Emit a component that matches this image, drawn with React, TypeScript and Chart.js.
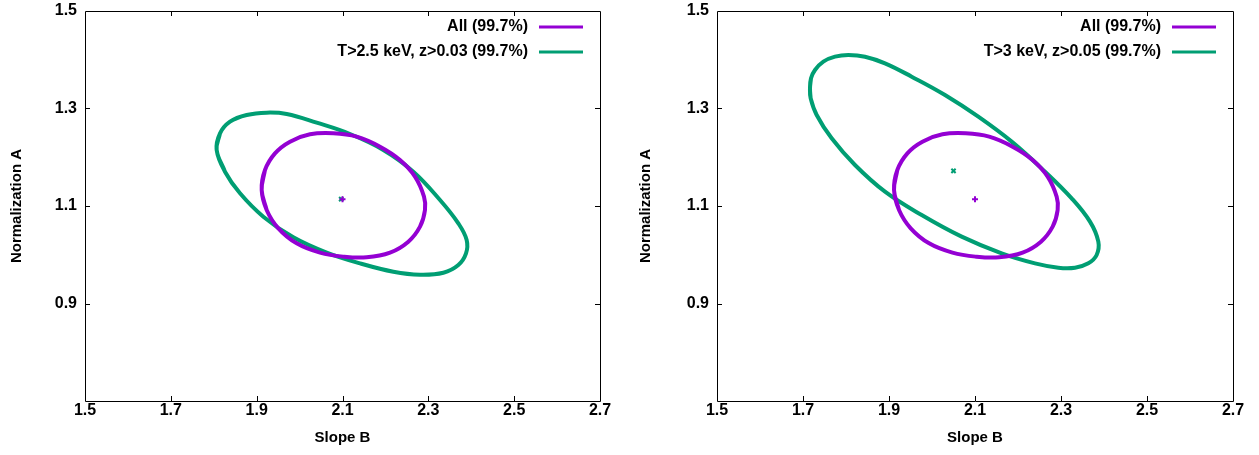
import React, { useEffect, useRef } from 'react';
import { Chart, registerables } from 'chart.js';

Chart.register(...registerables);

// Tick values
const xTickValues = [1.5, 1.7, 1.9, 2.1, 2.3, 2.5, 2.7];
const yTickValues = [0.7, 0.9, 1.1, 1.3, 1.5];
const yTickLabelsShown = [0.9, 1.1, 1.3, 1.5];

// 99.7% contour, full sample (same in both panels)
const allB = [1.9117, 1.9194, 1.9427, 1.9777, 2.0243, 2.0786, 2.1330, 2.1874, 2.2340, 2.2689, 2.2899, 2.2922, 2.2806, 2.2534, 2.2107, 2.1563, 2.1019, 2.0476, 1.9932, 1.9505, 1.9233];
const allA = [1.1328, 1.1738, 1.2080, 1.2320, 1.2470, 1.2491, 1.2422, 1.2217, 1.1944, 1.1602, 1.1191, 1.0918, 1.0576, 1.0268, 1.0043, 0.9947, 0.9961, 1.0043, 1.0234, 1.0542, 1.0918];
const allBestB = [2.1];
const allBestA = [1.114];

// 99.7% contour, T>2.5 keV, z>0.03
const cutLowB = [1.8068, 1.8146, 1.8379, 1.8767, 1.9233, 1.9699, 2.0398, 2.1175, 2.1951, 2.2650, 2.3272, 2.3699, 2.3893, 2.3878, 2.3699, 2.3350, 2.2806, 2.2185, 2.1408, 2.0631, 1.9854, 1.9155, 1.8612, 1.8262];
const cutLowA = [1.2149, 1.2491, 1.2730, 1.2867, 1.2915, 1.2887, 1.2709, 1.2477, 1.2149, 1.1704, 1.1123, 1.0644, 1.0303, 1.0029, 0.9790, 0.9632, 0.9591, 0.9653, 0.9824, 1.0043, 1.0357, 1.0781, 1.1260, 1.1704];
const cutLowBestB = [2.097];
const cutLowBestA = [1.114];

// 99.7% contour, T>3 keV, z>0.05
const cutHighB = [1.7163, 1.7186, 1.7279, 1.7473, 1.7744, 1.8054, 1.8442, 1.8907, 1.9527, 2.0302, 2.1077, 2.1853, 2.2628, 2.3248, 2.3674, 2.3868, 2.3829, 2.3636, 2.3326, 2.2938, 2.2395, 2.1620, 2.0690, 1.9760, 1.8907, 1.8209, 1.7667, 1.7318, 1.7178];
const cutHighA = [1.3414, 1.3619, 1.3790, 1.3961, 1.4063, 1.4097, 1.4063, 1.3927, 1.3653, 1.3277, 1.2832, 1.2320, 1.1704, 1.1157, 1.0679, 1.0268, 0.9995, 0.9824, 0.9735, 0.9735, 0.9824, 1.0029, 1.0371, 1.0815, 1.1294, 1.1841, 1.2388, 1.2867, 1.3209];
const cutHighBestB = [2.05];
const cutHighBestA = [1.172];

const labelAll = 'All (99.7%)';
const labelLow = 'T>2.5 keV, z>0.03 (99.7%)';
const labelHigh = 'T>3 keV, z>0.05 (99.7%)';

const PURPLE = '#9400d3';
const GREEN = '#009e73';
const FONT_FAMILY = '"Liberation Sans", Arial, Helvetica, sans-serif';

function closedLoop(bs: number[], as: number[]) {
  const pts = bs.map((b, i) => ({ x: b, y: as[i] }));
  const n = pts.length;
  return [pts[n - 1], ...pts, pts[0], pts[1]];
}

function points(bs: number[], as: number[]) {
  return bs.map((b, i) => ({ x: b, y: as[i] }));
}

const framePlugin = {
  id: 'gnuFrame',
  afterDraw(chart: any) {
    const { ctx, chartArea } = chart;
    const { left, right, top, bottom } = chartArea;
    const xs = chart.scales.x;
    const ys = chart.scales.y;
    ctx.save();
    ctx.strokeStyle = '#000';
    ctx.lineWidth = 1;
    ctx.beginPath();
    ctx.rect(Math.round(left) + 0.5, Math.round(top) + 0.5, Math.round(right - left), Math.round(bottom - top));
    ctx.stroke();
    const tl = 5;
    ctx.beginPath();
    xTickValues.forEach((v) => {
      const px = Math.round(xs.getPixelForValue(v)) + 0.5;
      if (px <= left + 1 || px >= right - 1) return;
      ctx.moveTo(px, bottom);
      ctx.lineTo(px, bottom - tl);
      ctx.moveTo(px, top);
      ctx.lineTo(px, top + tl);
    });
    yTickValues.forEach((v) => {
      const py = Math.round(ys.getPixelForValue(v)) + 0.5;
      if (py <= top + 1 || py >= bottom - 1) return;
      ctx.moveTo(left, py);
      ctx.lineTo(left + tl, py);
      ctx.moveTo(right, py);
      ctx.lineTo(right - tl, py);
    });
    ctx.stroke();

    // legend (top right, sample to the right of the text)
    const items = chart.data.datasets.filter((d: any) => d.label);
    ctx.font = `bold 16px ${FONT_FAMILY}`;
    ctx.textAlign = 'right';
    ctx.textBaseline = 'middle';
    items.forEach((d: any, i: number) => {
      const y = top + 16 + i * 25;
      ctx.fillStyle = '#000';
      ctx.fillText(d.label, right - 72, y);
      ctx.strokeStyle = d.borderColor;
      ctx.lineWidth = 3;
      ctx.beginPath();
      ctx.moveTo(right - 61, y);
      ctx.lineTo(right - 17, y);
      ctx.stroke();
    });
    ctx.restore();
  },
};

type PanelProps = {
  width: number;
  axisWidth: number;
  padRight: number;
  subLabel: string;
  subB: number[];
  subA: number[];
  subBestB: number[];
  subBestA: number[];
};

function zeroPad(s: any) {
  s.paddingTop = 0;
  s.paddingBottom = 0;
  s.paddingLeft = 0;
  s.paddingRight = 0;
}

function Panel(props: PanelProps) {
  const ref = useRef<HTMLCanvasElement | null>(null);
  useEffect(() => {
    if (!ref.current) return;
    const titleFont = { family: FONT_FAMILY, size: 15, weight: 'bold' as const };
    const tickFont = { family: FONT_FAMILY, size: 16, weight: 'bold' as const };
    const chart = new Chart(ref.current, {
      type: 'scatter',
      data: {
        datasets: [
          {
            label: labelAll,
            data: closedLoop(allB, allA),
            showLine: true,
            borderColor: PURPLE,
            backgroundColor: PURPLE,
            borderWidth: 4,
            pointRadius: 0,
            tension: 0.4,
            fill: false,
          },
          {
            label: props.subLabel,
            data: closedLoop(props.subB, props.subA),
            showLine: true,
            borderColor: GREEN,
            backgroundColor: GREEN,
            borderWidth: 4,
            pointRadius: 0,
            tension: 0.4,
            fill: false,
          },
          {
            data: points(allBestB, allBestA),
            pointStyle: 'cross',
            pointRadius: 3,
            borderWidth: 2,
            borderColor: PURPLE,
            backgroundColor: PURPLE,
            showLine: false,
          },
          {
            data: points(props.subBestB, props.subBestA),
            pointStyle: 'crossRot',
            pointRadius: 3,
            borderWidth: 2,
            borderColor: GREEN,
            backgroundColor: GREEN,
            showLine: false,
          },
        ],
      },
      options: {
        animation: false,
        responsive: false,
        events: [],
        layout: { padding: { top: 11, right: props.padRight, bottom: 0, left: 0 } },
        plugins: { legend: { display: false }, tooltip: { enabled: false }, title: { display: false } },
        scales: {
          x: {
            type: 'linear',
            min: 1.5,
            max: 2.7,
            afterBuildTicks: (s: any) => {
              s.ticks = xTickValues.map((value) => ({ value }));
            },
            afterFit: (s: any) => {
              s.height = 54;
              zeroPad(s);
            },
            ticks: {
              autoSkip: false,
              maxRotation: 0,
              padding: 0,
              color: '#000',
              font: tickFont,
              callback: (v: any) => Number(v).toFixed(1),
            },
            grid: { display: false, drawTicks: false },
            border: { display: false },
            title: { display: true, text: 'Slope B', color: '#000', font: titleFont, padding: { top: 0, bottom: 8 } },
          },
          y: {
            type: 'linear',
            min: 0.7,
            max: 1.5,
            afterBuildTicks: (s: any) => {
              s.ticks = yTickValues.map((value) => ({ value }));
            },
            afterFit: (s: any) => {
              s.width = props.axisWidth;
              zeroPad(s);
            },
            ticks: {
              autoSkip: false,
              padding: 8,
              color: '#000',
              font: tickFont,
              callback: (v: any) => {
                const n = Number(v);
                return yTickLabelsShown.some((t) => Math.abs(t - n) < 1e-9) ? n.toFixed(1) : '';
              },
            },
            grid: { display: false, drawTicks: false },
            border: { display: false },
            title: { display: true, text: 'Normalization A', color: '#000', font: titleFont, padding: { top: 8, bottom: 0 } },
          },
        },
      },
      plugins: [framePlugin],
    } as any);
    return () => chart.destroy();
  }, []);
  return (
    <div style={{ width: props.width, height: 455, position: 'relative' }}>
      <canvas ref={ref} width={props.width} height={455} style={{ display: 'block' }} />
    </div>
  );
}

export default function App() {
  return (
    <div style={{ position: 'absolute', left: 0, top: 0, width: 1259, height: 455, display: 'flex', background: '#fff' }}>
      <Panel width={629} axisWidth={85} padRight={29} subLabel={labelLow} subB={cutLowB} subA={cutLowA} subBestB={cutLowBestB} subBestA={cutLowBestA} />
      <Panel width={630} axisWidth={88} padRight={26} subLabel={labelHigh} subB={cutHighB} subA={cutHighA} subBestB={cutHighBestB} subBestA={cutHighBestA} />
    </div>
  );
}
